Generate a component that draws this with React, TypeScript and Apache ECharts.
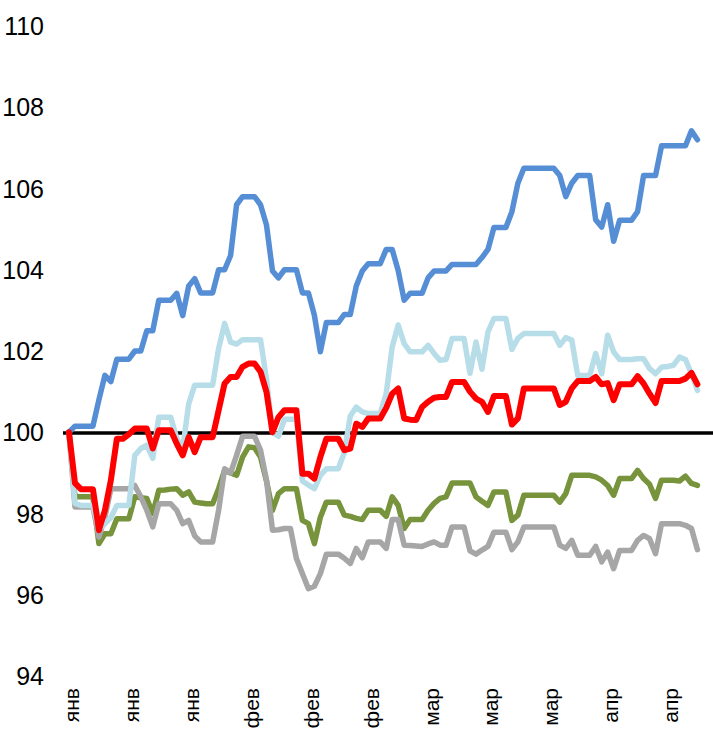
import React, { useEffect, useRef } from "react";
import * as echarts from "echarts";

// Month names and the index (day) at which each month starts in the daily series
const monthNames = ["янв", "фев", "мар", "апр"];
const monthStartIndex = [0, 27, 55, 86];
const labelPositions = [0.5, 10.5, 20.5, 30.5, 40.5, 50.5, 60.5, 70.5, 80.5, 90.5, 100.5];
const yTicks = { min: 94, max: 110, step: 2 };
const baseLine = 100;

const blueSeries = [
  100.0, 100.15, 100.15, 100.15, 100.15, 100.8, 101.4, 101.25, 101.8, 101.8,
  101.8, 102.0, 102.0, 102.5, 102.5, 103.25, 103.25, 103.25, 103.42, 102.87,
  103.6, 103.78, 103.43, 103.43, 103.43, 104.0, 104.0, 104.35, 105.6, 105.8,
  105.8, 105.8, 105.6, 105.1, 103.97, 103.8, 104.0, 104.0, 104.0, 103.43,
  103.43, 102.88, 101.98, 102.7, 102.7, 102.7, 102.9, 102.9, 103.6, 103.97,
  104.15, 104.15, 104.15, 104.5, 104.5, 103.98, 103.25, 103.42, 103.42, 103.42,
  103.8, 103.97, 103.97, 103.97, 104.13, 104.13, 104.13, 104.13, 104.13, 104.3,
  104.5, 105.04, 105.04, 105.04, 105.43, 106.13, 106.5, 106.5, 106.5, 106.5,
  106.5, 106.5, 106.32, 105.8, 106.13, 106.32, 106.32, 106.32, 105.23, 105.05,
  105.6, 104.7, 105.22, 105.22, 105.22, 105.43, 106.32, 106.32, 106.32, 107.05,
  107.05, 107.05, 107.05, 107.05, 107.42, 107.2,
];

const lightBlueSeries = [
  100.0, 98.25, 98.2, 98.2, 98.2, 97.6, 97.75, 97.9, 98.2, 98.2,
  98.2, 99.43, 99.6, 99.68, 99.36, 100.37, 100.37, 100.37, 99.85, 99.6,
  100.7, 101.16, 101.16, 101.16, 101.16, 102.06, 102.68, 102.22, 102.17, 102.28,
  102.28, 102.28, 102.28, 101.3, 100.0, 99.9, 100.32, 100.32, 100.32, 98.8,
  98.7, 98.61, 98.94, 99.1, 99.1, 99.1, 99.5, 100.4, 100.62, 100.5,
  100.46, 100.46, 100.46, 100.95, 102.1, 102.64, 102.18, 101.98, 101.98, 101.98,
  102.14, 101.94, 101.77, 101.79, 102.31, 102.31, 102.31, 101.45, 102.22, 101.55,
  102.47, 102.8, 102.8, 102.8, 102.04, 102.31, 102.43, 102.43, 102.43, 102.43,
  102.43, 102.43, 102.14, 102.33, 102.27, 101.4, 101.4, 101.4, 101.94, 101.44,
  102.39, 101.98, 101.79, 101.79, 101.79, 101.81, 101.81, 101.57, 101.44, 101.6,
  101.62, 101.65, 101.85, 101.79, 101.44, 101.03,
];

const redSeries = [
  100.0, 98.75, 98.6, 98.6, 98.6, 97.59, 98.08, 98.82, 99.84, 99.84,
  99.95, 100.09, 100.09, 100.09, 99.6, 100.05, 100.05, 100.05, 99.72, 99.43,
  99.88, 99.51, 99.88, 99.88, 99.88, 100.54, 101.2, 101.36, 101.36, 101.61,
  101.69, 101.69, 101.49, 100.99, 100.0, 100.37, 100.54, 100.54, 100.54, 98.98,
  98.98, 98.86, 99.39, 99.84, 99.84, 99.84, 99.56, 99.6, 100.21, 100.13,
  100.34, 100.34, 100.34, 100.6, 100.95, 101.08, 100.34, 100.31, 100.3, 100.62,
  100.75, 100.85, 100.87, 100.87, 101.24, 101.24, 101.24, 101.0, 100.83, 100.75,
  100.5, 100.89, 100.89, 100.89, 100.19, 100.34, 101.08, 101.08, 101.08, 101.08,
  101.08, 101.08, 100.67, 100.75, 101.08, 101.26, 101.26, 101.26, 101.36, 101.18,
  101.21, 100.79, 101.18, 101.18, 101.18, 101.38, 101.2, 100.95, 100.72, 101.26,
  101.26, 101.26, 101.26, 101.32, 101.46, 101.18,
];

const greenSeries = [
  100.0, 98.41, 98.41, 98.41, 98.41, 97.26, 97.5, 97.5, 97.87, 97.87,
  97.87, 98.41, 98.39, 98.37, 98.0, 98.57, 98.58, 98.6, 98.61, 98.45,
  98.53, 98.28, 98.26, 98.24, 98.24, 98.61, 99.06, 99.0, 98.94, 99.39,
  99.64, 99.62, 99.39, 98.8, 98.08, 98.49, 98.61, 98.61, 98.61, 97.83,
  97.75, 97.26, 97.91, 98.28, 98.28, 98.28, 97.96, 97.93, 97.88, 97.85,
  98.08, 98.08, 98.08, 97.93, 98.41, 98.2, 97.63, 97.85, 97.85, 97.85,
  98.08, 98.25, 98.37, 98.41, 98.75, 98.75, 98.75, 98.75, 98.41, 98.3,
  98.2, 98.53, 98.53, 98.53, 97.83, 97.96, 98.45, 98.45, 98.45, 98.45,
  98.45, 98.45, 98.28, 98.49, 98.94, 98.94, 98.94, 98.94, 98.9, 98.82,
  98.69, 98.45, 98.86, 98.86, 98.86, 99.06, 98.86, 98.72, 98.37, 98.82,
  98.82, 98.82, 98.8, 98.92, 98.74, 98.69,
];

const graySeries = [
  100.0, 98.16, 98.16, 98.16, 98.16, 97.42, 97.91, 98.61, 98.61, 98.61,
  98.61, 98.69, 98.41, 98.08, 97.67, 98.24, 98.24, 98.24, 98.08, 97.75,
  97.83, 97.45, 97.3, 97.3, 97.3, 98.08, 99.1, 99.0, 99.43, 99.9,
  99.9, 99.9, 99.56, 98.82, 97.59, 97.6, 97.63, 97.63, 96.89, 96.52,
  96.15, 96.21, 96.52, 97.0, 97.0, 97.0, 96.9, 96.77, 97.14, 96.91,
  97.3, 97.3, 97.3, 97.14, 97.85, 97.85, 97.22, 97.21, 97.2, 97.19,
  97.25, 97.3, 97.22, 97.22, 97.67, 97.67, 97.67, 97.08, 97.0, 97.1,
  97.19, 97.54, 97.54, 97.54, 97.11, 97.3, 97.67, 97.67, 97.67, 97.67,
  97.67, 97.67, 97.22, 97.14, 97.34, 96.97, 96.97, 96.97, 97.19, 96.81,
  97.05, 96.64, 97.09, 97.09, 97.09, 97.34, 97.46, 97.38, 97.01, 97.75,
  97.75, 97.75, 97.75, 97.71, 97.63, 97.11,
];

function monthOf(index: number): string {
  let m = 0;
  for (let k = 0; k < monthStartIndex.length; k++) {
    if (index >= monthStartIndex[k]) m = k;
  }
  return monthNames[m];
}

const labelFont = "'Liberation Sans', Arial, sans-serif";

export default function App() {
  const ref = useRef<HTMLDivElement>(null);
  useEffect(() => {
    document.body.style.margin = "0";
    if (!ref.current) return;
    const chart = echarts.init(ref.current, undefined, { renderer: "svg" });
    const mk = (name: string, values: number[], color: string, width: number, z: number, extra: any = {}) => ({
      name,
      type: "line",
      data: values.map((v, i) => [i, v]),
      showSymbol: false,
      symbol: "none",
      z,
      lineStyle: { color, width, cap: "round", join: "round" },
      ...extra,
    });
    chart.setOption({
      animation: false,
      grid: { left: 63, right: 0, top: 26, bottom: 54, containLabel: false, outerBoundsMode: "none" },
      xAxis: {
        type: "value",
        min: -1,
        max: 107.6,
        axisLine: { show: false },
        axisTick: { show: false },
        splitLine: { show: false },
        axisLabel: {
          customValues: labelPositions,
          rotate: 90,
          margin: 12,
          color: "#000",
          fontSize: 21,
          fontFamily: labelFont,
          formatter: (v: number) => monthOf(Math.floor(v)),
        },
      },
      yAxis: {
        type: "value",
        min: yTicks.min,
        max: yTicks.max,
        interval: yTicks.step,
        axisLine: { show: false },
        axisTick: { show: false },
        splitLine: { show: false },
        axisLabel: { color: "#000", fontSize: 25, margin: 19, fontFamily: labelFont },
      },
      series: [
        mk("green", greenSeries, "#77933C", 5.5, 2, {
          markLine: {
            silent: true,
            symbol: ["none", "none"],
            label: { show: false },
            z: 1,
            lineStyle: { color: "#000", width: 3.5, type: "solid" },
            data: [{ yAxis: baseLine }],
          },
        }),
        mk("gray", graySeries, "#A6A6A6", 5.5, 3),
        mk("lightblue", lightBlueSeries, "#B7DEE8", 5.5, 4),
        mk("blue", blueSeries, "#558ED5", 5.5, 5),
        mk("red", redSeries, "#FF0000", 6, 6),
      ],
    });
    return () => chart.dispose();
  }, []);
  return <div ref={ref} style={{ width: 713, height: 730 }} />;
}
